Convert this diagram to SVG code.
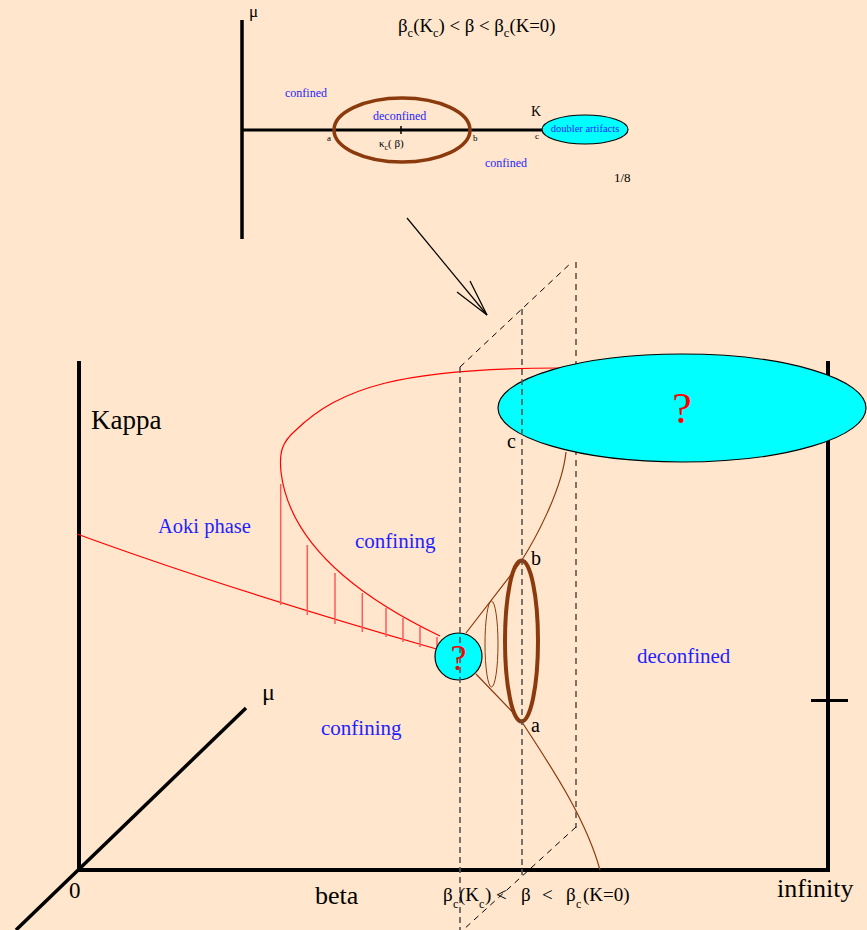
<svg xmlns="http://www.w3.org/2000/svg" width="867" height="930" viewBox="0 0 867 930">
<style>
.t{font-family:"Liberation Serif","Times New Roman",serif;fill:#000}
.blue{fill:#1f1fff}
.ax{stroke:#000;stroke-width:4;fill:none}
.red{stroke:#ff0000;stroke-width:1.2;fill:none}
.hatch{stroke:#ff5a5a;stroke-width:1.5;fill:none}
.brown{stroke:#8b3a0e;fill:none}
.dg{stroke:#555;stroke-width:1.6;stroke-dasharray:6 4;fill:none}
.dk{stroke:#000;stroke-width:1;stroke-dasharray:6 5;fill:none}
.cyan{fill:#00ffff;stroke:#000;stroke-width:1.2}
.q{fill:#ff0000;font-family:"Liberation Serif","Times New Roman",serif}
</style>
<rect width="867" height="930" fill="#ffe6cc"/>

<g id="inset">
  <line x1="242" y1="20" x2="242" y2="239" stroke="#000" stroke-width="3.5"/>
  <line x1="242" y1="130" x2="545" y2="130" stroke="#000" stroke-width="3"/>
  <ellipse cx="402" cy="130" rx="68" ry="32" class="brown" stroke-width="3.5"/>
  <line x1="401" y1="126" x2="401" y2="134" stroke="#000" stroke-width="1.5"/>
  <g id="doubler">
    <ellipse cx="585" cy="129.5" rx="43" ry="14.5" class="cyan"/>
    <text x="585" y="132" class="t blue" font-size="10.5" text-anchor="middle">doubler artifacts</text>
  </g>
  <text x="249" y="17" class="t" font-size="17">μ</text>
  <text x="398" y="32" class="t" font-size="18.8">β<tspan font-size="12.5" dy="5">c</tspan><tspan dy="-5">(K</tspan><tspan font-size="12.5" dy="5">c</tspan><tspan dy="-5">) &lt; β &lt; β</tspan><tspan font-size="12.5" dy="5">c</tspan><tspan dy="-5">(K=0)</tspan></text>
  <text x="285" y="97" class="t blue" font-size="12">confined</text>
  <text x="373" y="120" class="t blue" font-size="12">deconfined</text>
  <text x="485" y="167" class="t blue" font-size="12">confined</text>
  <text x="379" y="147" class="t" font-size="11">κ<tspan font-size="8" dy="3">c</tspan><tspan dy="-3">( β)</tspan></text>
  <text x="327" y="141" class="t" font-size="9">a</text>
  <text x="473" y="141" class="t" font-size="9">b</text>
  <text x="535" y="139" class="t" font-size="9">c</text>
  <text x="531" y="116" class="t" font-size="14">K</text>
  <text x="614" y="182" class="t" font-size="13">1/8</text>
</g>

<g id="connectors">
  <g id="zoom-arrow" stroke="#000" stroke-width="1.2" fill="none">
    <line x1="407" y1="218" x2="487" y2="315"/>
    <line x1="457" y1="292" x2="487" y2="315"/>
    <line x1="470" y1="281" x2="487" y2="315"/>
  </g>
</g>

<g id="axes">
  <line x1="79" y1="361" x2="79" y2="872" class="ax"/>
  <line x1="77" y1="870" x2="830" y2="870" class="ax"/>
  <line x1="828" y1="361" x2="828" y2="872" class="ax"/>
  <line x1="811" y1="700.5" x2="848" y2="700.5" stroke="#000" stroke-width="3"/>
  <line x1="246" y1="708" x2="16" y2="930" stroke="#000" stroke-width="3.5"/>
  <text x="262" y="700" class="t" font-size="24">μ</text>
  <text x="91" y="429" class="t" font-size="27">Kappa</text>
  <text x="69" y="898" class="t" font-size="23">0</text>
  <text x="315" y="904" class="t" font-size="26">beta</text>
  <text x="777" y="897" class="t" font-size="26">infinity</text>
</g>

<g id="box-back">
  <line x1="576" y1="262" x2="576" y2="828" class="dk"/>
  <line x1="460" y1="367" x2="572" y2="262" class="dk"/>
  <line x1="576" y1="827" x2="463" y2="930" class="dk"/>
</g>

<g id="aoki">
  <path d="M77,534 Q230,590 440,650" class="red"/>
  <path d="M440,636 Q292,565 281,472 C279,452 282,442 296,430 C340,388 400,368 560,368" class="red"/>
  <g class="hatch">
    <line x1="280.7" y1="484" x2="280.7" y2="605"/>
    <line x1="307.3" y1="545" x2="307.3" y2="615"/>
    <line x1="335" y1="573" x2="335" y2="624"/>
    <line x1="362.3" y1="593" x2="362.3" y2="632"/>
    <line x1="386" y1="608" x2="386" y2="637"/>
    <line x1="403" y1="618" x2="403" y2="642"/>
    <line x1="420" y1="627" x2="420" y2="647"/>
    <line x1="437" y1="637" x2="437" y2="649"/>
  </g>
</g>

<g id="deconf-lines">
  <path d="M466,633 L520,563 C535,540 562,490 566,452" class="brown" stroke-width="1.2"/>
  <path d="M476,674 L522,722 C545,758 585,815 600,870" class="brown" stroke-width="1.2"/>
  <ellipse cx="491.5" cy="644" rx="6.5" ry="43" class="brown" stroke-width="1"/>
  <ellipse cx="521.5" cy="641" rx="16.5" ry="80.5" class="brown" stroke-width="4"/>
</g>

<g id="doubler-main">
  <ellipse cx="682" cy="408" rx="184" ry="54" class="cyan"/>
  <text x="682" y="423" class="q" font-size="44" text-anchor="middle">?</text>
</g>

<g id="critical-point">
  <circle cx="458.5" cy="656.5" r="23.5" class="cyan"/>
  <text x="458.5" y="670" class="q" font-size="36" text-anchor="middle">?</text>
</g>

<g id="box-front">
  <line x1="460" y1="367" x2="460" y2="930" class="dg"/>
  <line x1="522" y1="309" x2="522" y2="876" class="dg"/>
</g>

<g id="labels">
  <text x="158" y="533" class="t blue" font-size="20.5">Aoki phase</text>
  <text x="355" y="548" class="t blue" font-size="21">confining</text>
  <text x="321" y="735" class="t blue" font-size="21">confining</text>
  <text x="637" y="663" class="t blue" font-size="21">deconfined</text>
  <text x="507" y="448" class="t" font-size="20">c</text>
  <text x="531" y="565" class="t" font-size="20">b</text>
  <text x="531" y="732" class="t" font-size="20">a</text>
  <text class="t" font-size="19" y="901"><tspan x="443">β</tspan><tspan x="453" y="908" font-size="12">c</tspan><tspan x="459" y="901">(K</tspan><tspan x="479" y="908" font-size="12">c</tspan><tspan x="485" y="901">)</tspan><tspan x="496">&lt;</tspan><tspan x="521">β</tspan><tspan x="542">&lt;</tspan><tspan x="566">β</tspan><tspan x="576" y="908" font-size="12">c</tspan><tspan x="583" y="901">(K=0)</tspan></text>
</g>
</svg>
